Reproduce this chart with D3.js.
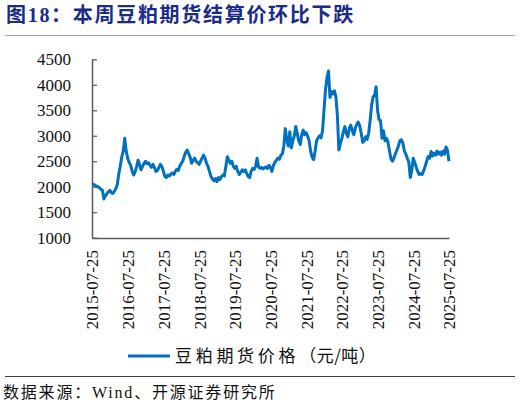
<!DOCTYPE html>
<html>
<head>
<meta charset="utf-8">
<script src="https://cdn.jsdelivr.net/npm/d3@7"></script>
<style>
  body { margin: 0; background: #fff; }
</style>
</head>
<body>
<svg id="chart" width="520" height="405"></svg>
<script>
// soybean meal futures price, roughly every half month from 2015-07-25
const startDate = new Date(2015, 6, 25);
const prices = [
  2040, 2050, 2030, 2010, 2000, 1980, 1950, 1930, 1760, 1820, 1860, 1900, 1930, 1880, 1870, 1910, 1960, 2050, 2250, 2400, 2580, 2700, 2950, 2700,
  2560, 2480, 2420, 2300, 2230, 2290, 2400, 2520, 2430, 2330, 2400, 2460, 2500, 2450, 2470, 2420, 2380, 2440, 2380, 2300, 2320, 2380, 2440, 2400,
  2300, 2200, 2180, 2230, 2210, 2250, 2270, 2240, 2300, 2340, 2320, 2400, 2460, 2500, 2600, 2680, 2720, 2650, 2580, 2460, 2520, 2560, 2500, 2470,
  2440, 2500, 2560, 2620, 2560, 2460, 2400, 2300, 2200, 2150, 2120, 2160, 2100, 2180, 2140, 2200, 2230, 2210, 2400, 2590, 2520, 2460, 2500, 2400,
  2360, 2400, 2300, 2240, 2280, 2330, 2300, 2330, 2260, 2200, 2180, 2300, 2360, 2340, 2400, 2560, 2380, 2360, 2380, 2350, 2370, 2390, 2360, 2420,
  2380, 2300, 2420, 2480, 2520, 2560, 2540, 2620, 2640, 2800, 3140, 2900, 2800, 3080, 2760, 2900, 3000, 3180, 3050, 2900, 2830, 3020, 3110, 3020,
  3060, 2990, 2900, 2700, 2580, 2530, 2700, 2900, 2960, 3000, 2960, 3100, 3500, 3900, 4150, 4270, 3750, 3870, 3820, 3880, 3760, 3400, 2720, 2850,
  2950, 3080, 3180, 3050, 2980, 3150, 3210, 3100, 3020, 3150, 3220, 3270, 3200, 3050, 2870, 2900, 2980, 2930, 3050, 3300, 3600, 3760, 3800, 3960,
  3500, 3320, 3300, 2950, 3100, 2900, 2950, 2870, 2700, 2550, 2500, 2560, 2650, 2720, 2800, 2900, 2920, 2860, 2700, 2640, 2560, 2480, 2180, 2320,
  2560, 2480, 2380, 2300, 2240, 2260, 2240, 2320, 2400, 2500, 2590, 2560, 2690, 2600, 2660, 2620, 2700, 2640, 2680, 2620, 2700, 2640, 2780, 2720,
  2500
];
const yTicks = [1000, 1500, 2000, 2500, 3000, 3500, 4000, 4500];
const xTickLabels = [
  "2015-07-25", "2016-07-25", "2017-07-25", "2018-07-25", "2019-07-25", "2020-07-25",
  "2021-07-25", "2022-07-25", "2023-07-25", "2024-07-25", "2025-07-25"
];
const seriesName = "豆粕期货价格";
const seriesUnit = "（元/吨）";
const title = "图18：本周豆粕期货结算价环比下跌";

const parse = d3.timeParse("%Y-%m-%d");
const data = prices.map((v, i) => ({
  date: d3.timeDay.offset(startDate, Math.round(i * 365.25 / 24)),
  value: v
}));

const svg = d3.select("#chart");
const serif = "'Liberation Serif', 'Times New Roman', serif";
const cjk = "'Noto Sans CJK SC', sans-serif";
const blue = "#0070c0";
const axisGray = "#595959";

const x = d3
  .scaleTime()
  .domain([parse(xTickLabels[0]), parse(xTickLabels[xTickLabels.length - 1])])
  .range([92, 449]);

const y = d3.scaleLinear().domain([1000, 4500]).range([237.7, 59.3]);

// title + rules
svg
  .append("text")
  .attr("x", 6)
  .attr("y", 22)
  .attr("fill", "#1a2b88")
  .attr("font-family", `'Liberation Serif', ${cjk}`)
  .attr("font-weight", "bold")
  .attr("font-size", 20)
  .attr("letter-spacing", 1.7)
  .text(title);

svg
  .append("line")
  .attr("x1", 5)
  .attr("x2", 515)
  .attr("y1", 35.5)
  .attr("y2", 35.5)
  .attr("stroke", "#a6a6a6")
  .attr("stroke-width", 1);

svg
  .append("line")
  .attr("x1", 5)
  .attr("x2", 515)
  .attr("y1", 376.5)
  .attr("y2", 376.5)
  .attr("stroke", "#404040")
  .attr("stroke-width", 1);

// y axis
const yAxis = (g) =>
  g
    .attr("transform", "translate(92,0)")
    .call(
      d3.axisLeft(y).tickValues(yTicks).tickSizeInner(-5).tickSizeOuter(0).tickPadding(21).tickFormat(d3.format("d"))
    )
    .call((g) => g.select(".domain").attr("stroke", axisGray).attr("stroke-width", 1.5))
    .call((g) => g.selectAll(".tick line").attr("stroke", axisGray).attr("stroke-width", 1.2))
    .call((g) =>
      g.selectAll(".tick text").attr("fill", "#111").attr("font-family", serif).attr("font-size", 17)
    );

// x axis, rotated labels
const xAxis = (g) =>
  g
    .attr("transform", "translate(0,238)")
    .call(
      d3.axisBottom(x).tickValues(xTickLabels.map(parse)).tickSize(0).tickFormat(d3.timeFormat("%Y-%m-%d"))
    )
    .call((g) => g.select(".domain").attr("stroke", axisGray).attr("stroke-width", 1.5))
    .call((g) =>
      g
        .selectAll(".tick text")
        .attr("fill", "#111")
        .attr("font-family", serif)
        .attr("font-size", 17)
        .attr("transform", "rotate(-90)")
        .attr("text-anchor", "end")
        .attr("x", -12)
        .attr("y", 0)
        .attr("dy", "0.35em")
    );

svg.append("g").call(yAxis);
svg.append("g").call(xAxis);

// price line
const line = d3
  .line()
  .x((d) => x(d.date))
  .y((d) => y(d.value));

svg
  .append("path")
  .datum(data)
  .attr("fill", "none")
  .attr("stroke", blue)
  .attr("stroke-width", 3)
  .attr("stroke-linejoin", "round")
  .attr("d", line);

// legend
svg
  .append("line")
  .attr("x1", 128)
  .attr("x2", 170)
  .attr("y1", 356)
  .attr("y2", 356)
  .attr("stroke", blue)
  .attr("stroke-width", 3);

const legendText = svg
  .append("text")
  .attr("x", 175)
  .attr("y", 362)
  .attr("fill", "#111")
  .attr("font-family", cjk)
  .attr("font-size", 17);
legendText.append("tspan").attr("letter-spacing", 3.7).text(seriesName);
legendText.append("tspan").attr("letter-spacing", 0.5).text(seriesUnit);

// source note
const source = svg
  .append("text")
  .attr("x", 3)
  .attr("y", 398)
  .attr("fill", "#111")
  .attr("font-family", cjk)
  .attr("font-size", 16)
  .attr("letter-spacing", 1.8);
source.append("tspan").text("数据来源：");
source.append("tspan").attr("font-family", serif).text("Wind");
source.append("tspan").text("、开源证券研究所");
</script>
</body>
</html>
